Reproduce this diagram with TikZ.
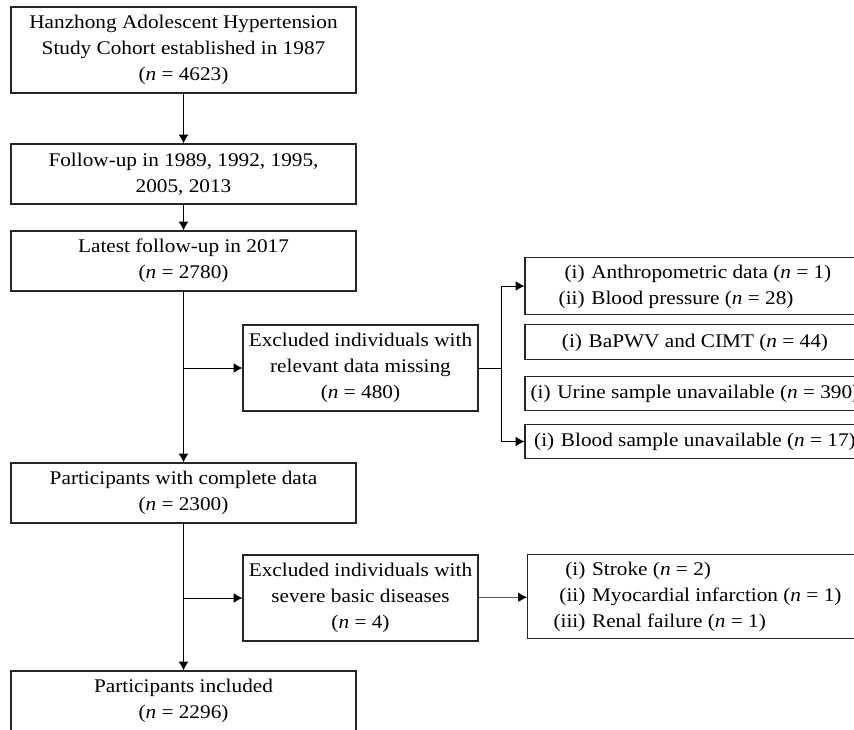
\documentclass[tikz,border=0pt]{standalone}
\usepackage{fontspec}
\setmainfont{Liberation Serif}[FakeStretch=1.1]
\usetikzlibrary{arrows.meta}

\newcommand{\ncount}[1]{(\textit{n}~=~#1)}

\begin{document}
\begin{tikzpicture}[
		x=0.75pt, y=-0.75pt,
		box/.style={draw=black!85, line width=0.9pt, inner sep=2pt, align=center, font=\fontsize{14.5}{19.5}\selectfont},
		mainbox/.style={box, minimum width=258.75pt, minimum height=45pt},
		exclbox/.style={box, minimum width=176.25pt, minimum height=64.5pt},
		listbox/.style={box, minimum width=255pt, minimum height=26pt},
		>={Latex[length=6.5pt,width=7pt]}
	]
	\clip (0,0) rectangle (854,729);

	\node[mainbox, minimum height=64.5pt] (cohort) at (183.5,50) {Hanzhong Adolescent Hypertension\\Study Cohort established in 1987\\\ncount{4623}};
	\node[mainbox] (followup) at (183.5,174) {Follow-up in 1989, 1992, 1995,\\2005, 2013};
	\node[mainbox] (latest) at (183.5,261) {Latest follow-up in 2017\\\ncount{2780}};

	\node[exclbox] (exclmiss) at (360.5,368) {Excluded individuals with\\relevant data missing\\\ncount{480}};

	\node[listbox, minimum height=37.5pt] (anthro) at (695,286) {\begin{tabular}{@{}r@{\hspace{5pt}}l@{}}(i) & Anthropometric data \ncount{1}\\(ii) & Blood pressure \ncount{28}\end{tabular}};
	\node[listbox] (vascular) at (695,342) {\begin{tabular}{@{}r@{\hspace{5pt}}l@{}}(i) & BaPWV and CIMT \ncount{44}\end{tabular}};
	\node[listbox] (urine) at (695,393.5) {\begin{tabular}{@{}r@{\hspace{5pt}}l@{}}(i) & Urine sample unavailable \ncount{390}\end{tabular}};
	\node[listbox] (blood) at (695,441.5) {\begin{tabular}{@{}r@{\hspace{5pt}}l@{}}(i) & Blood sample unavailable \ncount{17}\end{tabular}};

	\node[mainbox] (complete) at (183.5,493) {Participants with complete data\\\ncount{2300}};
	\node[exclbox] (exclsev) at (360.5,598) {Excluded individuals with\\severe basic diseases\\\ncount{4}};
	\node[listbox, minimum height=60.75pt] (diseases) at (697.5,596.5) {\begin{tabular}{@{}r@{\hspace{5pt}}l@{}}(i) & Stroke \ncount{2}\\(ii) & Myocardial infarction \ncount{1}\\(iii) & Renal failure \ncount{1}\end{tabular}};
	\node[mainbox] (included) at (183.5,701) {Participants included\\\ncount{2296}};

	\coordinate (split) at (501,368);

	\draw[->] (cohort) -- (followup);
	\draw[->] (followup) -- (latest);
	\draw[->] (latest) -- (complete);
	\draw[->] (latest.south |- exclmiss.west) -- (exclmiss);

	\draw (exclmiss) -- (split);
	\draw[->] (split) |- (anthro.west);
	\draw[->] (split) |- (blood.west);

	\draw[->] (complete) -- (included);
	\draw[->] (complete.south |- exclsev.west) -- (exclsev);
	\draw[->] (exclsev) -- (diseases);
\end{tikzpicture}
\end{document}
